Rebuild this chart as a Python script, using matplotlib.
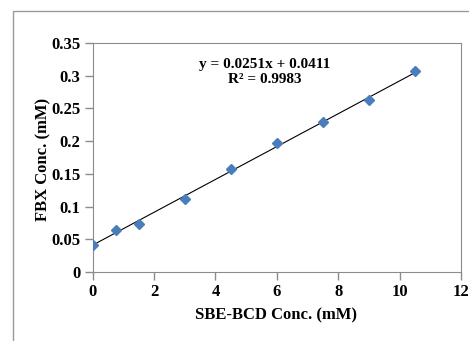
import numpy as np
import matplotlib.pyplot as plt
from matplotlib.patches import Rectangle

# SBE-BCD concentration vs FBX concentration (mM)
sbe_bcd = [0, 0.75, 1.5, 3, 4.5, 6, 7.5, 9, 10.5]
fbx = [0.041, 0.064, 0.0735, 0.111, 0.157, 0.197, 0.230, 0.263, 0.307]
slope = 0.0251
intercept = 0.0411

plt.rcParams['font.family'] = ['Liberation Serif', 'DejaVu Serif']
plt.rcParams['font.weight'] = 'bold'

W, H = 469, 341
fig = plt.figure(figsize=(W / 100, H / 100), dpi=100)
ax = fig.add_axes([92.7 / W, 1 - 272 / H, (461 - 92.7) / W, (272 - 43) / H])

# outer chart frame (runs off the right and bottom of the image)
fig.add_artist(Rectangle((13 / W, -0.1), 1.2, 1 - 11 / H + 0.1,
                         transform=fig.transFigure, fill=False,
                         edgecolor='#999999', linewidth=1.0))

fit_x = np.array([sbe_bcd[0], sbe_bcd[-1]])
ax.plot(fit_x, slope * fit_x + intercept, color='black', linewidth=0.8, zorder=2)
ax.plot(sbe_bcd, fbx, linestyle='none', marker='D', markersize=5,
        color='#4a7ebb', zorder=3)

ax.set_xlim(0, 12)
ax.set_ylim(0, 0.35)
ax.set_xticks([0, 2, 4, 6, 8, 10, 12])
ax.set_yticks([0, 0.05, 0.1, 0.15, 0.2, 0.25, 0.3, 0.35])
ax.set_yticklabels(['0', '0.05', '0.1', '0.15', '0.2', '0.25', '0.3', '0.35'])
ax.tick_params(direction='out', length=6, width=1, color='#8c8c8c',
               labelsize=12, pad=3)
for s in ax.spines.values():
    s.set_color('#8c8c8c')

ax.set_xlabel('SBE-BCD Conc. (mM)', fontsize=12, fontweight='bold')
ax.set_ylabel('FBX Conc. (mM)', fontsize=12, fontweight='bold')
ax.xaxis.set_label_coords(0.499, -0.153)
ax.yaxis.set_label_coords(-0.113, 0.49)

ax.text(5.6, 0.305, 'y = 0.0251x + 0.0411\nR² = 0.9983', ha='center', va='center',
        fontsize=11, fontweight='bold', linespacing=1.2)

fig.savefig('out.png', dpi=100)
